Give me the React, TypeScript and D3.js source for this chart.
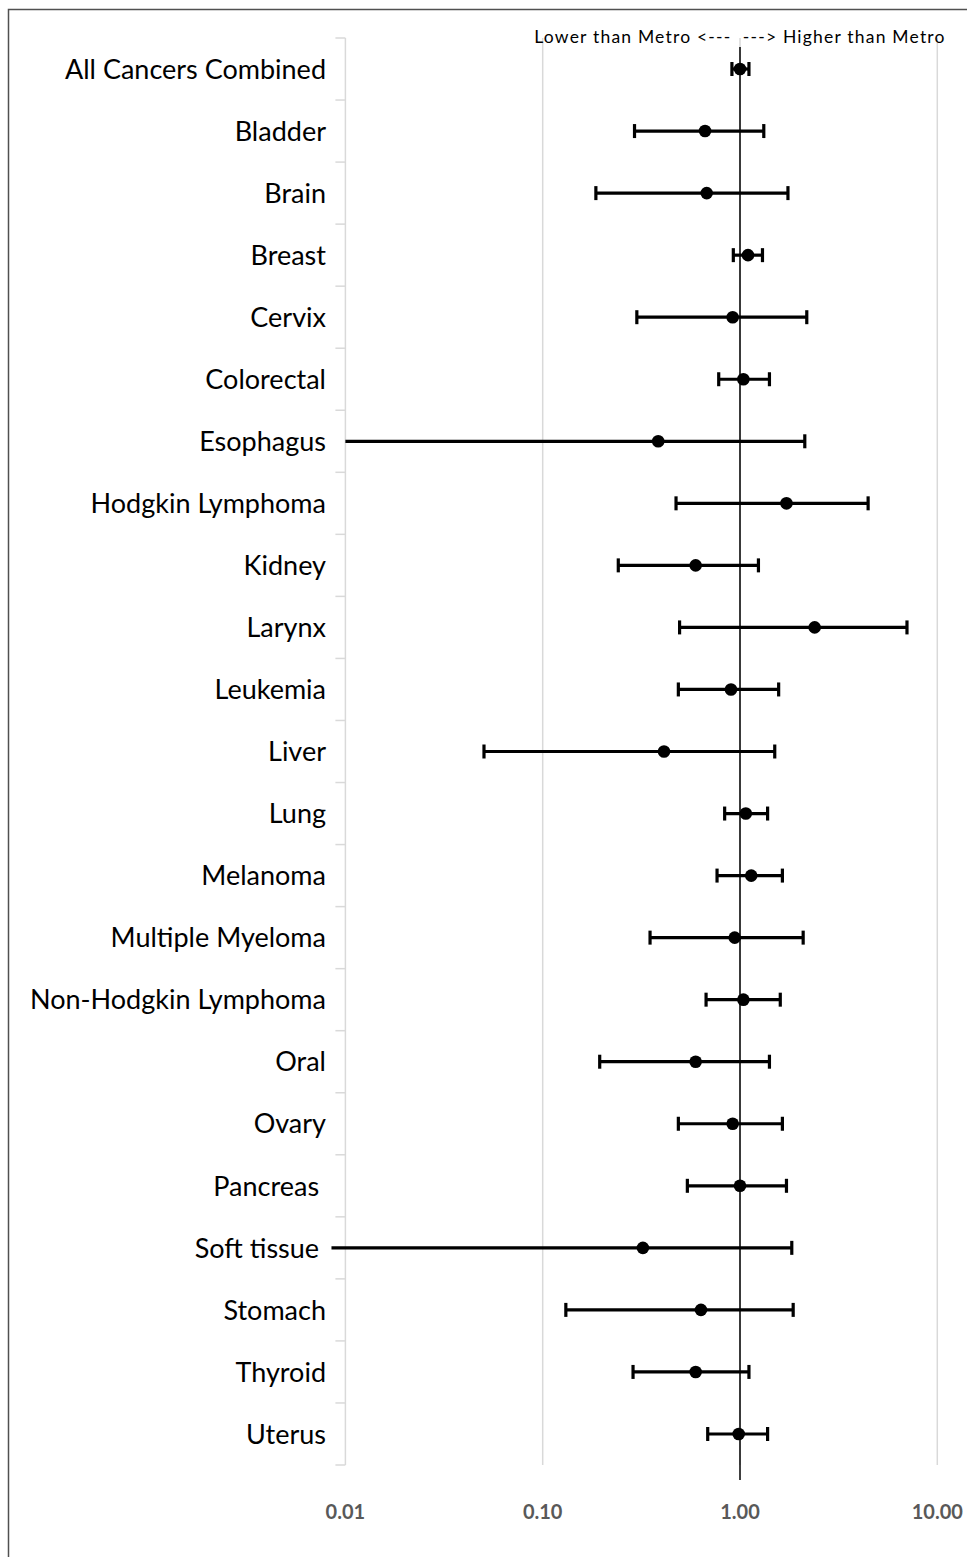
import React from 'react';
import * as d3 from 'd3';

// cancer sites, top to bottom (trailing spaces kept as in the source labels)
const sites = [
  'All Cancers Combined', 'Bladder', 'Brain', 'Breast', 'Cervix', 'Colorectal',
  'Esophagus', 'Hodgkin Lymphoma', 'Kidney', 'Larynx', 'Leukemia', 'Liver',
  'Lung', 'Melanoma', 'Multiple Myeloma', 'Non-Hodgkin Lymphoma', 'Oral',
  'Ovary', 'Pancreas ', 'Soft tissue ', 'Stomach', 'Thyroid', 'Uterus',
];

// rate ratio vs metro, with lower / upper confidence limits
const ratio = [1.0, 0.665, 0.678, 1.098, 0.918, 1.04, 0.385, 1.72, 0.596, 2.39, 0.9, 0.412,
  1.07, 1.14, 0.94, 1.04, 0.596, 0.918, 1.0, 0.322, 0.634, 0.596, 0.985];
const lower = [0.91, 0.292, 0.186, 0.925, 0.3, 0.78, 0.0099, 0.474, 0.2416, 0.494, 0.487, 0.0504,
  0.836, 0.765, 0.35, 0.673, 0.1945, 0.487, 0.541, 0.0085, 0.131, 0.287, 0.686];
const upper = [1.11, 1.32, 1.75, 1.3, 2.18, 1.41, 2.13, 4.46, 1.24, 7.02, 1.57, 1.5,
  1.38, 1.64, 2.09, 1.6, 1.41, 1.64, 1.72, 1.83, 1.86, 1.11, 1.38];

const xTicks = [0.01, 0.1, 1, 10];
const refValue = 1;
const topNote = 'Lower than Metro <---  ---> Higher than Metro';

const font = 'Lato, "Open Sans", sans-serif';

export default function App() {
  const x = d3.scaleLog().domain([0.01, 10]).range([345.4, 937.3]);
  const y = d3.scaleBand<string>().domain(sites).range([38, 1465]);
  const bw = y.bandwidth();
  const cy = (s: string) => (y(s) ?? 0) + bw / 2;
  const fmt = d3.format('.2f');
  const [x0] = x.range();

  return (
    <svg width={967} height={1557} style={{ position: 'absolute', left: 0, top: 0, background: '#fff' }}>
      <rect x={8.5} y={9.5} width={980} height={1570} fill="#fff" stroke="#505050" strokeWidth={1.5} />

      {/* gridlines */}
      {xTicks.slice(1).map(t => (
        <line key={t} x1={x(t)} x2={x(t)} y1={38} y2={1465} stroke="#d9d9d9" strokeWidth={1.5} />
      ))}

      {/* category axis */}
      <line x1={x0} x2={x0} y1={38} y2={1465} stroke="#d9d9d9" strokeWidth={1.5} />
      {d3.range(sites.length + 1).map(i => {
        const yy = 38 + i * bw;
        return <line key={i} x1={x0 - 10} x2={x0} y1={yy} y2={yy} stroke="#d9d9d9" strokeWidth={1.5} />;
      })}
      {sites.map(s => (
        <text key={s} x={326} y={cy(s)} dy="0.36em" textAnchor="end" fontFamily={font}
          fontSize={27} fill="#000" style={{ whiteSpace: 'pre' }}>{s}</text>
      ))}

      {/* x tick labels */}
      {xTicks.map(t => (
        <text key={t} x={x(t)} y={1519} textAnchor="middle" fontFamily={font}
          fontSize={20} fontWeight="bold" fill="#595959">{fmt(t)}</text>
      ))}

      {/* note */}
      <text x={740} y={43} textAnchor="middle" fontFamily={font} fontSize={17.5} letterSpacing={1.2}
        fill="#000" style={{ whiteSpace: 'pre' }}>{topNote}</text>

      {/* reference line at 1 */}
      <line x1={x(refValue)} x2={x(refValue)} y1={cy(sites[0]) - bw * 0.355}
        y2={cy(sites[sites.length - 1]) + bw * 0.74} stroke="#000" strokeWidth={1.5} />

      {/* error bars */}
      {sites.map((s, i) => {
        const yy = cy(s);
        const lo = lower[i];
        const xl = lo < 0.01 ? (i === 19 ? x(lo) : x0) : x(lo);
        const xu = x(upper[i]);
        return (
          <g key={s}>
            <line x1={xl} x2={xu} y1={yy} y2={yy} stroke="#000" strokeWidth={3.2} />
            {lo >= 0.01 && <line x1={xl} x2={xl} y1={yy - 7} y2={yy + 7} stroke="#000" strokeWidth={3.2} />}
            <line x1={xu} x2={xu} y1={yy - 7} y2={yy + 7} stroke="#000" strokeWidth={3.2} />
            <circle cx={x(ratio[i])} cy={yy} r={6.3} fill="#000" />
          </g>
        );
      })}
    </svg>
  );
}
